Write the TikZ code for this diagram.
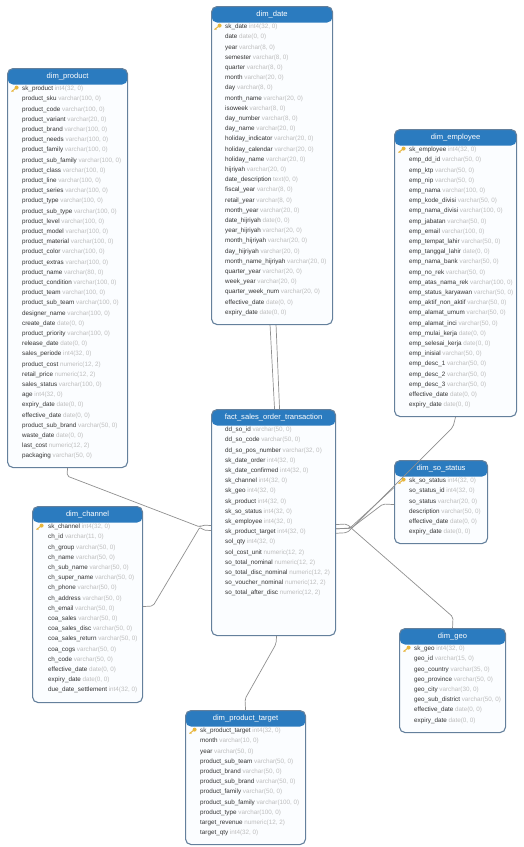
\documentclass[tikz,border=0pt]{standalone}
\usepackage{fontspec}
\setmainfont{Liberation Sans}
\usetikzlibrary{arrows.meta, positioning}
\definecolor{headblue}{HTML}{2B7BBF}
\definecolor{edgeblue}{HTML}{64809C}
\definecolor{typegrey}{HTML}{BDBDBD}
\definecolor{rowblack}{HTML}{333333}
\definecolor{relgrey}{HTML}{8F8F8F}
\definecolor{keygold}{HTML}{E8B63C}
\definecolor{tablefill}{HTML}{FBFDFF}
\newcommand{\fld}[2]{#1 {\color{typegrey}#2}\\}
\newcommand{\intf}[1]{\fld{#1}{int4(32, 0)}}
\newcommand{\datef}[1]{\fld{#1}{date(0, 0)}}
\newcommand{\varf}[2]{\fld{#1}{varchar(#2, 0)}}
\newcommand{\numf}[1]{\fld{#1}{numeric(12, 2)}}

\begin{document}
\begin{tikzpicture}[
    x=1pt, y=-1pt,
    tablebox/.style={draw=edgeblue, line width=1.1pt, rounded corners=5.5pt, anchor=north west, fill=tablefill,
        path picture={\fill[headblue] (path picture bounding box.north west) rectangle ([yshift=-16pt]path picture bounding box.north east);}},
    tabletitle/.style={text=white, font=\fontsize{7.6}{8}\selectfont, inner sep=0pt},
    tablerows/.style={anchor=north west, inner sep=0pt, align=left, text=rowblack, font=\fontsize{6.3}{10.2}\selectfont},
    rel/.style={draw=relgrey, line width=0.7pt, rounded corners=2pt},
    keyicon/.pic={
        \draw[keygold, line width=1pt] (-3.5,2.5) -- (1,-1);
        \draw[keygold, line width=0.7pt] (-2.6,1.8) -- (-1.6,2.8);
        \fill[keygold] (1.6,-1.4) circle (2pt);
    }
]
\useasboundingbox (0,0) rectangle (523,847);

% Dimension tables
\node (dim_date) [tablebox, minimum width=121pt, minimum height=318pt] at (211,6) {};
\node (dim_product) [tablebox, minimum width=120pt, minimum height=399pt] at (7,68) {};
\node (dim_employee) [tablebox, minimum width=122pt, minimum height=287pt] at (394,129) {};
\node (dim_so_status) [tablebox, minimum width=93pt, minimum height=83pt] at (394,460) {};
\node (dim_geo) [tablebox, minimum width=106pt, minimum height=104pt] at (399,628) {};
\node (dim_channel) [tablebox, minimum width=110pt, minimum height=196pt] at (32,506) {};
\node (dim_product_target) [tablebox, minimum width=120pt, minimum height=134pt] at (185,710) {};
\node (fact_sales) [tablebox, minimum width=124pt, minimum height=226pt] at (211,409) {};

% Relations
\draw[rel] ([xshift=-2pt]dim_date.south) -- ([xshift=1pt]fact_sales.north);
\draw[rel] ([xshift=4pt]dim_date.south) -- ([xshift=6pt]fact_sales.north);
\coordinate (left_in) at (200,527);
\draw[rel] (dim_product.south) -- (67,476) -- (left_in) -- (203,525) -- ([yshift=-3pt]fact_sales.west);
\draw[rel] ([yshift=-2pt]dim_channel.east) -- (153,606) -- (left_in) -- (203,530) -- ([yshift=-8pt]fact_sales.west);
\draw[rel] (dim_geo.north) -- (453,617) -- (350,527) -- (347,524) -- ([yshift=-2pt]fact_sales.east);
\draw[rel] ([yshift=14.5pt]dim_so_status.west) -- (350,528) -- ([yshift=-6.3pt]fact_sales.east);
\draw[rel] ([yshift=-2.5pt]dim_so_status.west) -- (383,504) -- (350,529) -- (346,528.3) -- ([yshift=-6.3pt]fact_sales.east);
\draw[rel] (dim_employee.south) -- (453,427) -- (350,530) -- (347,532.7) -- ([yshift=-10.7pt]fact_sales.east);
\draw[rel] ([xshift=3pt]fact_sales.south) -- (276,644) -- (245,699) -- (dim_product_target.north);

% dim_date
\node (date_title) [tabletitle] at ([yshift=-8.5pt]dim_date.north) {dim\_date};
\pic at ([xshift=7pt,yshift=-21pt]dim_date.north west) {keyicon};
\node (date_rows) [tablerows] at ([xshift=14pt,yshift=-18pt]dim_date.north west) {%
\intf{sk\_date}
\datef{date}
\varf{year}{8}
\varf{semester}{8}
\varf{quarter}{8}
\varf{month}{20}
\varf{day}{8}
\varf{month\_name}{20}
\varf{isoweek}{8}
\varf{day\_number}{8}
\varf{day\_name}{20}
\varf{holiday\_indicator}{20}
\varf{holiday\_calendar}{20}
\varf{holiday\_name}{20}
\varf{hijriyah}{20}
\fld{date\_description}{text(0, 0)}
\varf{fiscal\_year}{8}
\varf{retail\_year}{8}
\varf{month\_year}{20}
\datef{date\_hijriyah}
\varf{year\_hijriyah}{20}
\varf{month\_hijriyah}{20}
\varf{day\_hijriyah}{20}
\varf{month\_name\_hijriyah}{20}
\varf{quarter\_year}{20}
\varf{week\_year}{20}
\varf{quarter\_week\_num}{20}
\datef{effective\_date}
\datef{expiry\_date}};

% dim_product
\node (product_title) [tabletitle] at ([yshift=-8.5pt]dim_product.north) {dim\_product};
\pic at ([xshift=8pt,yshift=-21pt]dim_product.north west) {keyicon};
\node (product_rows) [tablerows] at ([xshift=15pt,yshift=-18pt]dim_product.north west) {%
\intf{sk\_product}
\varf{product\_sku}{100}
\varf{product\_code}{100}
\varf{product\_variant}{20}
\varf{product\_brand}{100}
\varf{product\_needs}{100}
\varf{product\_family}{100}
\varf{product\_sub\_family}{100}
\varf{product\_class}{100}
\varf{product\_line}{100}
\varf{product\_series}{100}
\varf{product\_type}{100}
\varf{product\_sub\_type}{100}
\varf{product\_level}{100}
\varf{product\_model}{100}
\varf{product\_material}{100}
\varf{product\_color}{100}
\varf{product\_extras}{100}
\varf{product\_name}{80}
\varf{product\_condition}{100}
\varf{product\_team}{100}
\varf{product\_sub\_team}{100}
\varf{designer\_name}{100}
\datef{create\_date}
\varf{product\_priority}{100}
\datef{release\_date}
\intf{sales\_periode}
\numf{product\_cost}
\numf{retail\_price}
\varf{sales\_status}{100}
\intf{age}
\datef{expiry\_date}
\datef{effective\_date}
\varf{product\_sub\_brand}{50}
\datef{waste\_date}
\numf{last\_cost}
\varf{packaging}{50}};

% dim_employee
\node (employee_title) [tabletitle] at ([yshift=-8.5pt]dim_employee.north) {dim\_employee};
\pic at ([xshift=8pt,yshift=-21pt]dim_employee.north west) {keyicon};
\node (employee_rows) [tablerows] at ([xshift=15pt,yshift=-18pt]dim_employee.north west) {%
\intf{sk\_employee}
\varf{emp\_dd\_id}{50}
\varf{emp\_ktp}{50}
\varf{emp\_nip}{50}
\varf{emp\_nama}{100}
\varf{emp\_kode\_divisi}{50}
\varf{emp\_nama\_divisi}{100}
\varf{emp\_jabatan}{50}
\varf{emp\_email}{100}
\varf{emp\_tempat\_lahir}{50}
\datef{emp\_tanggal\_lahir}
\varf{emp\_nama\_bank}{50}
\varf{emp\_no\_rek}{50}
\varf{emp\_atas\_nama\_rek}{100}
\varf{emp\_status\_karyawan}{50}
\varf{emp\_aktif\_non\_aktif}{50}
\varf{emp\_alamat\_umum}{50}
\varf{emp\_alamat\_inci}{50}
\datef{emp\_mulai\_kerja}
\datef{emp\_selesai\_kerja}
\varf{emp\_inisial}{50}
\varf{emp\_desc\_1}{50}
\varf{emp\_desc\_2}{50}
\varf{emp\_desc\_3}{50}
\datef{effective\_date}
\datef{expiry\_date}};

% dim_so_status
\node (status_title) [tabletitle] at ([yshift=-8.5pt]dim_so_status.north) {dim\_so\_status};
\pic at ([xshift=8pt,yshift=-21pt]dim_so_status.north west) {keyicon};
\node (status_rows) [tablerows] at ([xshift=15pt,yshift=-18pt]dim_so_status.north west) {%
\intf{sk\_so\_status}
\intf{so\_status\_id}
\varf{so\_status}{20}
\varf{description}{50}
\datef{effective\_date}
\datef{expiry\_date}};

% dim_geo
\node (geo_title) [tabletitle] at ([yshift=-8.5pt]dim_geo.north) {dim\_geo};
\pic at ([xshift=8pt,yshift=-21pt]dim_geo.north west) {keyicon};
\node (geo_rows) [tablerows] at ([xshift=15pt,yshift=-18pt]dim_geo.north west) {%
\intf{sk\_geo}
\varf{geo\_id}{15}
\varf{geo\_country}{35}
\varf{geo\_province}{50}
\varf{geo\_city}{30}
\varf{geo\_sub\_district}{50}
\datef{effective\_date}
\datef{expiry\_date}};

% dim_channel
\node (channel_title) [tabletitle] at ([yshift=-8.5pt]dim_channel.north) {dim\_channel};
\pic at ([xshift=8pt,yshift=-21pt]dim_channel.north west) {keyicon};
\node (channel_rows) [tablerows] at ([xshift=16pt,yshift=-18pt]dim_channel.north west) {%
\intf{sk\_channel}
\varf{ch\_id}{11}
\varf{ch\_group}{50}
\varf{ch\_name}{50}
\varf{ch\_sub\_name}{50}
\varf{ch\_super\_name}{50}
\varf{ch\_phone}{50}
\varf{ch\_address}{50}
\varf{ch\_email}{50}
\varf{coa\_sales}{50}
\varf{coa\_sales\_disc}{50}
\varf{coa\_sales\_return}{50}
\varf{coa\_cogs}{50}
\varf{ch\_code}{50}
\datef{effective\_date}
\datef{expiry\_date}
\intf{due\_date\_settlement}};

% dim_product_target
\node (target_title) [tabletitle] at ([yshift=-8.5pt]dim_product_target.north) {dim\_product\_target};
\pic at ([xshift=8pt,yshift=-21pt]dim_product_target.north west) {keyicon};
\node (target_rows) [tablerows] at ([xshift=15pt,yshift=-18pt]dim_product_target.north west) {%
\intf{sk\_product\_target}
\varf{month}{10}
\varf{year}{50}
\varf{product\_sub\_team}{50}
\varf{product\_brand}{50}
\varf{product\_sub\_brand}{50}
\varf{product\_family}{50}
\varf{product\_sub\_family}{100}
\varf{product\_type}{100}
\numf{target\_revenue}
\intf{target\_qty}};

% fact table
\node (fact_title) [tabletitle] at ([yshift=-8.5pt]fact_sales.north) {fact\_sales\_order\_transaction};
\node (fact_rows) [tablerows] at ([xshift=14pt,yshift=-18pt]fact_sales.north west) {%
\varf{dd\_so\_id}{50}
\varf{dd\_so\_code}{50}
\varf{dd\_so\_pos\_number}{32}
\intf{sk\_date\_order}
\intf{sk\_date\_confirmed}
\intf{sk\_channel}
\intf{sk\_geo}
\intf{sk\_product}
\intf{sk\_so\_status}
\intf{sk\_employee}
\intf{sk\_product\_target}
\intf{sol\_qty}
\numf{sol\_cost\_unit}
\numf{so\_total\_nominal}
\numf{so\_total\_disc\_nominal}
\numf{so\_voucher\_nominal}
\numf{so\_total\_after\_disc}};
\end{tikzpicture}
\end{document}
